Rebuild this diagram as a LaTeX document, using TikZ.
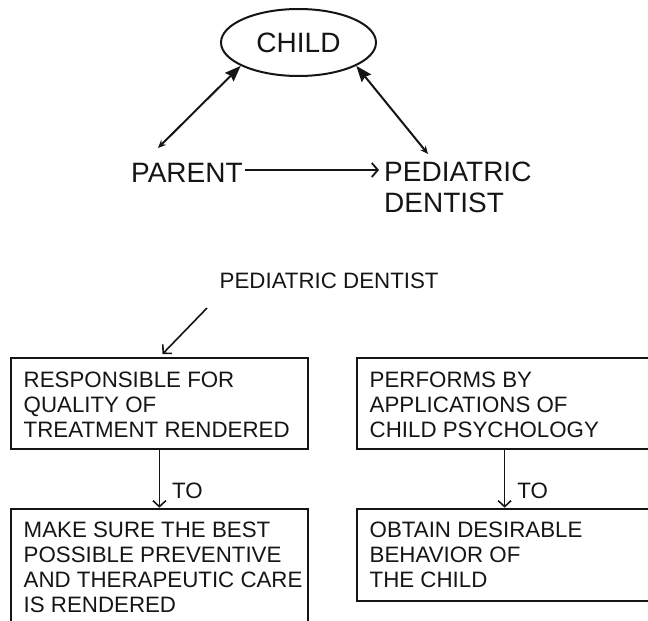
\documentclass[tikz,border=0pt]{standalone}
\usepackage{fontspec}
\setmainfont{Liberation Sans}
\usetikzlibrary{arrows.meta,shapes.geometric,calc}
\definecolor{ink}{HTML}{151515}
\newcommand\bigtxt{\fontsize{28}{31}\selectfont}
\newcommand\smtxt{\fontsize{22.3}{25}\selectfont}
\begin{document}
\begin{tikzpicture}[x=1pt,y=-1pt,
  txtbig/.style={font=\bigtxt, text=ink, inner sep=0pt},
  txtsm/.style={font=\smtxt, text=ink, inner sep=0pt},
  boxnode/.style={draw=ink, line width=1.8pt, inner sep=0pt, anchor=north west},
  conn/.style={draw=ink, line width=2pt},
  vhead/.style={-{Straight Barb[length=6pt,width=13pt,line width=1.6pt]}},
  lbl/.style={txtsm, anchor=base west, inner sep=0pt}
]
\useasboundingbox (0,0) rectangle (648,621);

% top triangle
\node[ellipse, draw=ink, line width=2pt, minimum width=155pt, minimum height=67pt, inner sep=0pt, font=\bigtxt, text=ink] (child) at (298.5,42.5) {CHILD};
\node[txtbig, anchor=base west] (parent) at (131,182) {PARENT};
\node[txtbig, anchor=north west, align=left] (pd) at (384,161.5) {PEDIATRIC\\DENTIST};

\coordinate (pa) at (158,148);
\coordinate (pdt) at (428,154);
\coordinate (hy) at (0,170);

\draw[conn, {Stealth[length=8pt,width=7pt]}-{Stealth[length=16pt,width=12pt,inset=2pt]}] (pa) -- (child.202);
\draw[conn, {Stealth[length=8pt,width=7pt]}-{Stealth[length=16pt,width=12pt,inset=2pt]}] (pdt) -- (child.338);
\draw[conn, -{Straight Barb[length=6pt,width=14pt,line width=1.8pt]}] ([xshift=2pt]parent.east |- hy) -- ([xshift=-5pt]pd.west |- hy);

% lower part
\node[txtsm, anchor=base west] (pd2) at (219.5,288) {PEDIATRIC DENTIST};

\node[boxnode, minimum width=297.6pt, minimum height=91.6pt] (b1) at (9.7,356.7) {};
\node[boxnode, minimum width=297.6pt, minimum height=130pt] (b2) at (9.7,507.7) {};
\node[boxnode, minimum width=296pt, minimum height=91.6pt] (r1) at (355.7,356.7) {};
\node[boxnode, minimum width=296pt, minimum height=92.6pt] (r2) at (355.7,507.7) {};

\node[txtsm, anchor=north west, align=left] (t1) at (23.5,371.5) {RESPONSIBLE FOR\\QUALITY OF\\TREATMENT RENDERED};
\node[txtsm, anchor=north west, align=left] (t2) at (23.5,521.5) {MAKE SURE THE BEST\\POSSIBLE PREVENTIVE\\AND THERAPEUTIC CARE\\IS RENDERED};
\node[txtsm, anchor=north west, align=left] (t3) at (369.5,371.5) {PERFORMS BY\\APPLICATIONS OF\\CHILD PSYCHOLOGY};
\node[txtsm, anchor=north west, align=left] (t4) at (369.5,521.5) {OBTAIN DESIRABLE\\BEHAVIOR OF\\THE CHILD};

\coordinate (s2) at (207,308);
\coordinate (e2) at (162.5,354);
\draw[conn, line width=1.6pt, vhead] (s2) -- (e2);

\draw[conn, line width=1.6pt, vhead] (b1.south) -- node[lbl, pos=0.845, xshift=12pt] {TO} (b2.north);
\draw[conn, line width=1.6pt, vhead] (r1.south) -- node[lbl, pos=0.845, xshift=12pt] {TO} (r2.north);
\end{tikzpicture}
\end{document}
